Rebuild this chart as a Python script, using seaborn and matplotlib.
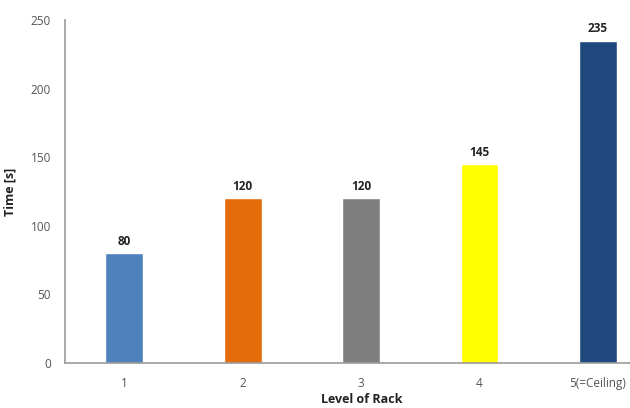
import matplotlib
matplotlib.use("Agg")
import matplotlib.pyplot as plt
import seaborn as sns
import pandas as pd

levels = ["1", "2", "3", "4", "5(=Ceiling)"]
times = [80, 120, 120, 145, 235]
bar_colors = ["#4F81BD", "#E46C0A", "#7F7F7F", "#FFFF00", "#1F497D"]

df = pd.DataFrame({"level": levels, "time": times})

sns.set_style("white")
plt.rcParams["font.family"] = ["Open Sans", "DejaVu Sans"]

fig = plt.figure(figsize=(6.3, 4.08), dpi=100)
ax = fig.add_axes([0.103, 0.110, 0.897, 0.841])

sns.barplot(data=df, x="level", y="time", hue="level", palette=bar_colors,
            width=0.32, legend=False, ax=ax, saturation=1)

for i, v in enumerate(times):
    ax.text(i, v + 4, str(v), ha="center", va="bottom", fontsize=8.5,
            fontweight="bold", color="#222222")

ax.set_ylim(0, 250)
ax.set_xlim(-0.5, 4.27)
ax.set_yticks(range(0, 251, 50))
ax.tick_params(axis="both", length=0, labelsize=8.5, labelcolor="#555555")
ax.tick_params(axis="x", pad=10)
ax.tick_params(axis="y", pad=10)

for s in ["top", "right"]:
    ax.spines[s].set_visible(False)
for s in ["left", "bottom"]:
    ax.spines[s].set_color("#999999")
    ax.spines[s].set_linewidth(1.2)

ax.set_xlabel("Level of Rack", fontsize=9, fontweight="bold", color="#222222")
ax.set_ylabel("Time [s]", fontsize=9, fontweight="bold", color="#222222")
ax.xaxis.set_label_coords(0.526, -0.088)
ax.yaxis.set_label_coords(-0.085, 0.5)

fig.savefig("out.png", dpi=100)
